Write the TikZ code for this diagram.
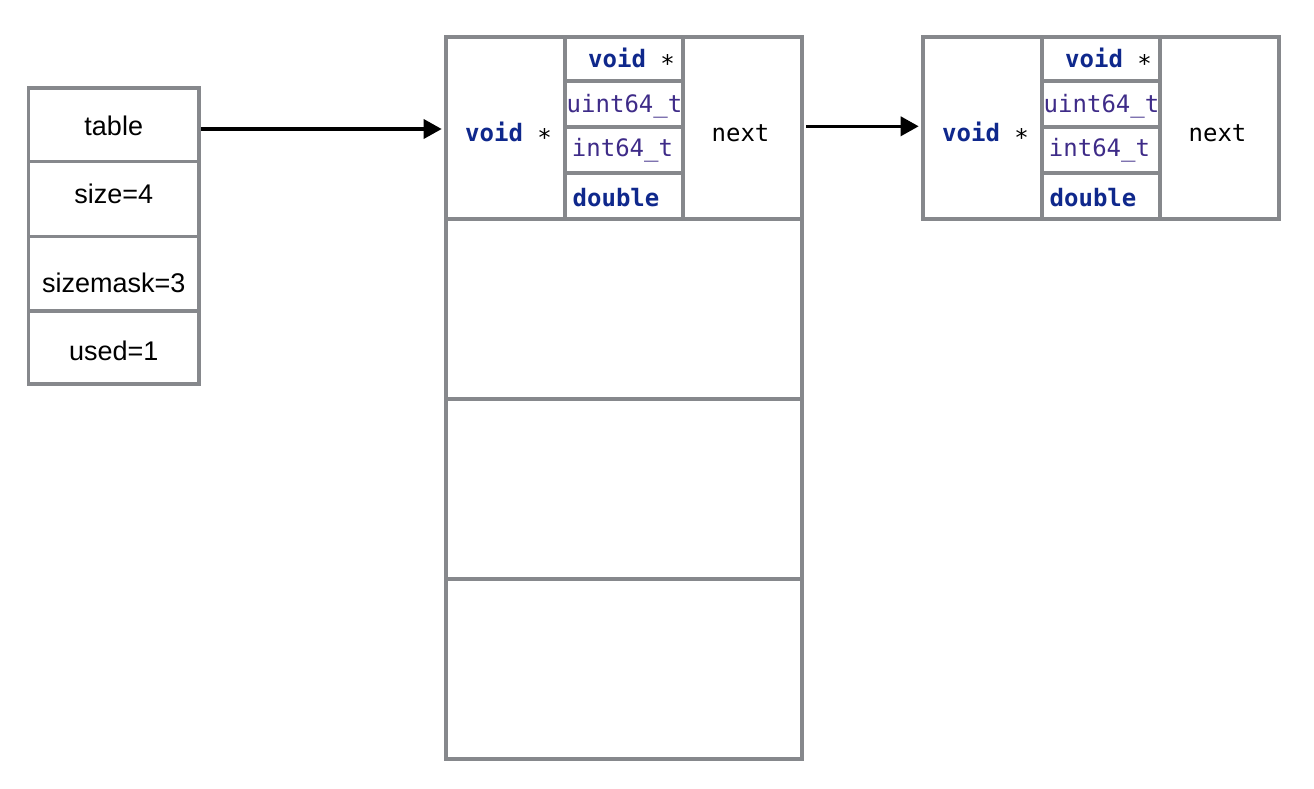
\documentclass[tikz,border=0pt]{standalone}
\usepackage{fontspec}
\setmainfont{Liberation Sans}
\setmonofont{DejaVu Sans Mono}
\usetikzlibrary{arrows.meta}
\definecolor{boxgray}{RGB}{134,136,140}
\definecolor{kwblue}{RGB}{15,40,140}
\definecolor{typepurple}{RGB}{62,43,136}
\newcommand\kw[1]{\textcolor{kwblue}{\bfseries #1}}
\newcommand\ty[1]{\textcolor{typepurple}{#1}}
\newcommand\ptrstar{\symbol{"2217}}
\tikzset{
  cell/.style={draw=boxgray, line width=4bp, rectangle, inner sep=0pt, fill=white},
  lcell/.style={draw=boxgray, line width=3.5bp, rectangle, inner sep=0pt,
    minimum width=170.5bp, fill=white},
  lbl/.style={anchor=base, inner sep=0pt, outer sep=0pt},
  mono/.style={lbl, font=\fontsize{24bp}{28bp}\selectfont\ttfamily},
  sans/.style={lbl, font=\fontsize{27bp}{32bp}\selectfont},
  ptr/.style={line width=3.5bp, -{Triangle[length=18bp,width=19bp]}}
}
\newcommand\entrybox[2]{%
\begin{scope}[xshift=#2bp]
  \node[cell, minimum width=119bp, minimum height=182bp] (#1v) at (505.5,128) {};
  \node[cell, minimum width=118bp, minimum height=43.7bp] (#1p) at (624,58.85) {};
  \node[cell, minimum width=118bp, minimum height=46bp] (#1u) at (624,103.7) {};
  \node[cell, minimum width=118bp, minimum height=46bp] (#1i) at (624,149.7) {};
  \node[cell, minimum width=118bp, minimum height=46.3bp] (#1d) at (624,195.85) {};
  \node[cell, minimum width=119bp, minimum height=182bp] (#1n) at (742.5,128) {};
  \node[mono] (#1vt) at (508.5,141) {\kw{void} \ptrstar};
  \node[mono] (#1pt) at (631.5,67.3) {\kw{void} \ptrstar};
  \node[mono] (#1ut) at (624.5,112.7) {\ty{uint64\_t}};
  \node[mono] (#1it) at (622.5,156.7) {\ty{int64\_t}};
  \node[mono] (#1dt) at (616,206.7) {\kw{double}};
  \node[mono] (#1nt) at (740.5,141) {next};
\end{scope}}
\begin{document}
\begin{tikzpicture}[x=1bp, y=-1bp]
  \useasboundingbox (0,0) rectangle (1314,788);
  % dict struct
  \node[lcell, minimum height=73.5bp] (table) at (113.75,124.75) {};
  \node[lcell, minimum height=75.2bp] (size) at (113.75,199.1) {};
  \node[lcell, minimum height=74.3bp] (mask) at (113.75,273.85) {};
  \node[lcell, minimum height=73bp] (used) at (113.75,347.5) {};
  \node[sans] (tablet) at (113.75,135) {table};
  \node[sans] (sizet) at (113.75,203.5) {size=4};
  \node[sans] (maskt) at (113.75,292) {sizemask=3};
  \node[sans] (usedt) at (113.75,360) {used=1};
  % bucket array
  \node[cell, minimum width=356bp, minimum height=179.7bp] (b1) at (624,308.85) {};
  \node[cell, minimum width=356bp, minimum height=180bp] (b2) at (624,488.7) {};
  \node[cell, minimum width=356bp, minimum height=180.3bp] (b3) at (624,668.85) {};
  \entrybox{m}{0}
  \entrybox{r}{477}
  % pointers
  \draw[ptr, shorten >=2.3bp] ([yshift=-1bp]table.east |- mv.west) -- ([yshift=-1bp]mv.west);
  \draw[ptr, shorten <=2bp, shorten >=2.3bp] ([yshift=1.7bp]mn.east) -- ([yshift=1.7bp]rv.west);
\end{tikzpicture}
\end{document}
